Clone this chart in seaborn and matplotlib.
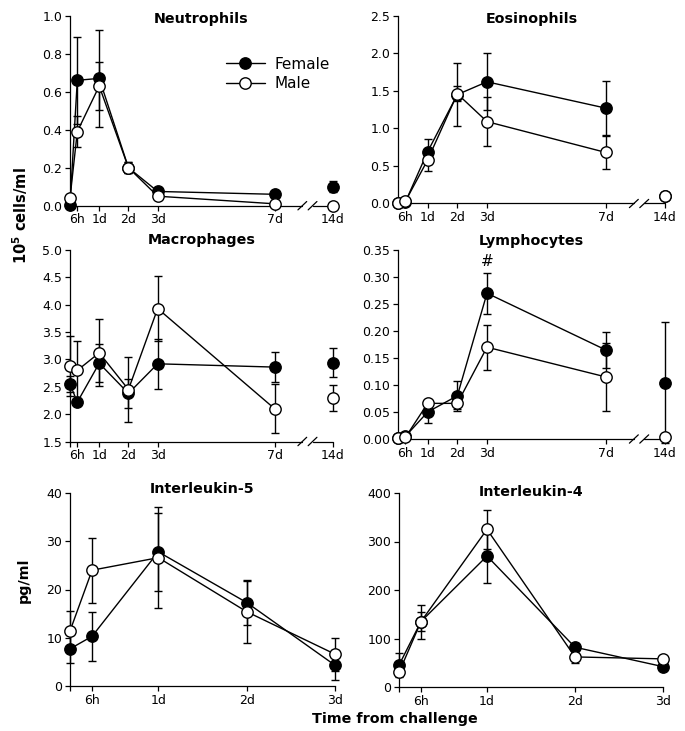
import numpy as np
import pandas as pd
import matplotlib
matplotlib.use("Agg")
import matplotlib.pyplot as plt
from matplotlib.lines import Line2D
import seaborn as sns

# ---------------- data ----------------
time_cells = [0, 0.25, 1, 2, 3, 7, 14]          # days
tick_labels_cells = ["", "6h", "1d", "2d", "3d", "7d", "14d"]
time_il = [0, 0.25, 1, 2, 3]
tick_labels_il = ["", "6h", "1d", "2d", "3d"]

neu_f = [0.005, 0.66, 0.67, 0.20, 0.075, 0.06, 0.10]
neu_f_err = [0.005, 0.23, 0.255, 0.03, 0.01, 0.01, 0.03]
neu_m = [0.04, 0.39, 0.63, 0.20, 0.05, 0.01, 0.0]
neu_m_err = [0.01, 0.08, 0.125, 0.03, 0.01, 0.005, 0.0]

eos_f = [0.0, 0.02, 0.69, 1.45, 1.62, 1.27, 0.10]
eos_f_err = [0.0, 0.01, 0.17, 0.42, 0.38, 0.36, 0.0]
eos_m = [0.0, 0.03, 0.58, 1.46, 1.09, 0.68, 0.10]
eos_m_err = [0.0, 0.01, 0.15, 0.10, 0.33, 0.22, 0.0]

mac_f = [2.55, 2.22, 2.93, 2.38, 2.92, 2.86, 2.94]
mac_f_err = [0.15, 0.05, 0.35, 0.27, 0.46, 0.28, 0.27]
mac_m = [2.88, 2.80, 3.12, 2.45, 3.93, 2.10, 2.29]
mac_m_err = [0.54, 0.54, 0.61, 0.60, 0.59, 0.45, 0.24]

lym_f = [0.002, 0.005, 0.050, 0.080, 0.270, 0.165, 0.104]
lym_f_err = [0.0, 0.002, 0.020, 0.028, 0.038, 0.033, 0.112]
lym_m = [0.002, 0.003, 0.066, 0.066, 0.170, 0.115, 0.003]
lym_m_err = [0.0, 0.001, 0.004, 0.010, 0.042, 0.063, 0.0]

il5_f = [7.7, 10.3, 27.8, 17.3, 4.3]
il5_f_err = [3.0, 5.1, 8.1, 4.6, 3.1]
il5_m = [11.4, 24.0, 26.6, 15.4, 6.6]
il5_m_err = [4.2, 6.7, 10.4, 6.4, 3.4]

il4_f = [45, 135, 270, 82, 42]
il4_f_err = [25, 35, 55, 8, 5]
il4_m = [30, 135, 325, 62, 58]
il4_m_err = [8, 20, 40, 12, 5]

# ---------------- style ----------------
sns.set_theme(style="ticks")
plt.rcParams["font.family"] = ["DejaVu Sans"]
plt.rcParams["mathtext.fontset"] = "dejavusans"
plt.rcParams["text.color"] = "black"
plt.rcParams["axes.labelcolor"] = "black"
plt.rcParams["xtick.color"] = "black"
plt.rcParams["ytick.color"] = "black"
plt.rcParams["axes.edgecolor"] = "black"

fig = plt.figure(figsize=(6.85, 7.31), dpi=100)

W, H = 685.0, 731.0
PX = 72.0 / 100.0   # points per pixel


def add_ax(x0, x1, ytop, ybot):
    return fig.add_axes([x0 / W, 1 - ybot / H, (x1 - x0) / W, (ybot - ytop) / H])


ax_neu = add_ax(70, 333, 15.7, 205.7)
ax_eos = add_ax(398, 665, 15.7, 203.5)
ax_mac = add_ax(70, 333, 250, 441.5)
ax_lym = add_ax(398, 665, 250, 439)
ax_il5 = add_ax(70, 335, 493, 686)
ax_il4 = add_ax(399, 663, 493, 687)

BREAK_POS = 9.0   # display position of 14d on the broken axis
MS = 8.2


def axis_pos(t):
    return [BREAK_POS if v > 7 else v for v in t]


def draw_series(ax, t, f, fe, m, me, broken):
    x = axis_pos(t)
    n_conn = 6 if broken else len(t)
    for vals, errs, face, z in ((f, fe, "black", 2), (m, me, "white", 4)):
        ax.errorbar(x, vals, yerr=errs, fmt="none", ecolor="black",
                    elinewidth=1.0, capsize=2.6, capthick=1.0, zorder=z,
                    clip_on=False)
        df = pd.DataFrame({"x": x[:n_conn], "y": vals[:n_conn]})
        sns.lineplot(data=df, x="x", y="y", ax=ax, color="black",
                     linewidth=1.0, marker="o", markersize=MS,
                     markerfacecolor=face, markeredgecolor="black",
                     markeredgewidth=1.0, zorder=z + 1, clip_on=False,
                     legend=False)
        if broken:
            df2 = pd.DataFrame({"x": x[n_conn:], "y": vals[n_conn:]})
            sns.lineplot(data=df2, x="x", y="y", ax=ax, color="black",
                         linewidth=0, marker="o", markersize=MS,
                         markerfacecolor=face, markeredgecolor="black",
                         markeredgewidth=1.0, zorder=z + 1, clip_on=False,
                         legend=False)


def style_ax(ax, title, title_off_px, ylim, yticks, yfmt, t, labels, broken):
    ax.set_ylim(*ylim)
    ax.set_yticks(yticks)
    ax.set_yticklabels([yfmt.format(v) for v in yticks])
    pos = axis_pos(t)
    ax.set_xticks(pos)
    ax.set_xticklabels(labels)
    ax.set_xlim(0, max(pos))
    ax.set_xlabel("")
    ax.set_ylabel("")
    ax.annotate(title, xy=(0.5, 1.0), xycoords="axes fraction",
                xytext=(0, title_off_px * PX), textcoords="offset points",
                ha="center", va="center", fontsize=10.3, fontweight="bold",
                color="black", annotation_clip=False)
    ax.tick_params(direction="out", length=3.5, width=0.9, labelsize=9,
                   pad=2, colors="black")
    for s in ("top", "right"):
        ax.spines[s].set_visible(False)
    ax.spines["left"].set_linewidth(0.9)
    ax.spines["bottom"].set_linewidth(0.9)
    if broken:
        ax.spines["bottom"].set_visible(False)
        tr = ax.get_xaxis_transform()
        b1, b2 = 7.95, 8.3
        ax.plot([0, b1], [0, 0], color="black", lw=0.9, transform=tr, clip_on=False)
        ax.plot([b2, BREAK_POS], [0, 0], color="black", lw=0.9, transform=tr, clip_on=False)
        for b in (b1, b2):
            ax.plot([b - 0.15, b + 0.15], [-0.022, 0.022], color="black", lw=0.9,
                    transform=tr, clip_on=False)


draw_series(ax_neu, time_cells, neu_f, neu_f_err, neu_m, neu_m_err, True)
style_ax(ax_neu, "Neutrophils", -3, (0, 1.0), [0, 0.2, 0.4, 0.6, 0.8, 1.0], "{:.1f}",
         time_cells, tick_labels_cells, True)

draw_series(ax_eos, time_cells, eos_f, eos_f_err, eos_m, eos_m_err, True)
style_ax(ax_eos, "Eosinophils", -3, (0, 2.5), [0, 0.5, 1.0, 1.5, 2.0, 2.5], "{:.1f}",
         time_cells, tick_labels_cells, True)

draw_series(ax_mac, time_cells, mac_f, mac_f_err, mac_m, mac_m_err, True)
style_ax(ax_mac, "Macrophages", 10, (1.5, 5.0), [1.5, 2.0, 2.5, 3.0, 3.5, 4.0, 4.5, 5.0],
         "{:.1f}", time_cells, tick_labels_cells, True)

draw_series(ax_lym, time_cells, lym_f, lym_f_err, lym_m, lym_m_err, True)
style_ax(ax_lym, "Lymphocytes", 9, (0, 0.35),
         [0, 0.05, 0.10, 0.15, 0.20, 0.25, 0.30, 0.35], "{:.2f}",
         time_cells, tick_labels_cells, True)
ax_lym.text(3, 0.328, "#", ha="center", va="center", fontsize=11, color="black")

draw_series(ax_il5, time_il, il5_f, il5_f_err, il5_m, il5_m_err, False)
style_ax(ax_il5, "Interleukin-5", 4, (0, 40), [0, 10, 20, 30, 40], "{:.0f}",
         time_il, tick_labels_il, False)

draw_series(ax_il4, time_il, il4_f, il4_f_err, il4_m, il4_m_err, False)
style_ax(ax_il4, "Interleukin-4", 1, (0, 400), [0, 100, 200, 300, 400], "{:.0f}",
         time_il, tick_labels_il, False)

# legend
handles = [
    Line2D([], [], color="black", lw=1.0, marker="o", markersize=MS,
           markerfacecolor="black", markeredgecolor="black"),
    Line2D([], [], color="black", lw=1.0, marker="o", markersize=MS,
           markerfacecolor="white", markeredgecolor="black"),
]
ax_neu.legend(handles, ["Female", "Male"], loc="upper left",
              bbox_to_anchor=(0.593, 0.785), frameon=False, fontsize=11,
              handlelength=2.55, handletextpad=0.65, labelspacing=0.3,
              borderaxespad=0, borderpad=0, labelcolor="black")

fig.text(20 / W, 1 - 216 / H, r"$\mathbf{10^{5}}$ cells/ml", rotation=90,
         ha="center", va="center", fontsize=10.5, fontweight="bold", color="black")
fig.text(24 / W, 1 - 580 / H, "pg/ml", rotation=90, ha="center", va="center",
         fontsize=10.3, fontweight="bold", color="black")
fig.text(395 / W, 1 - 719 / H, "Time from challenge", ha="center", va="center",
         fontsize=10.3, fontweight="bold", color="black")

fig.savefig("out.png", dpi=100)
